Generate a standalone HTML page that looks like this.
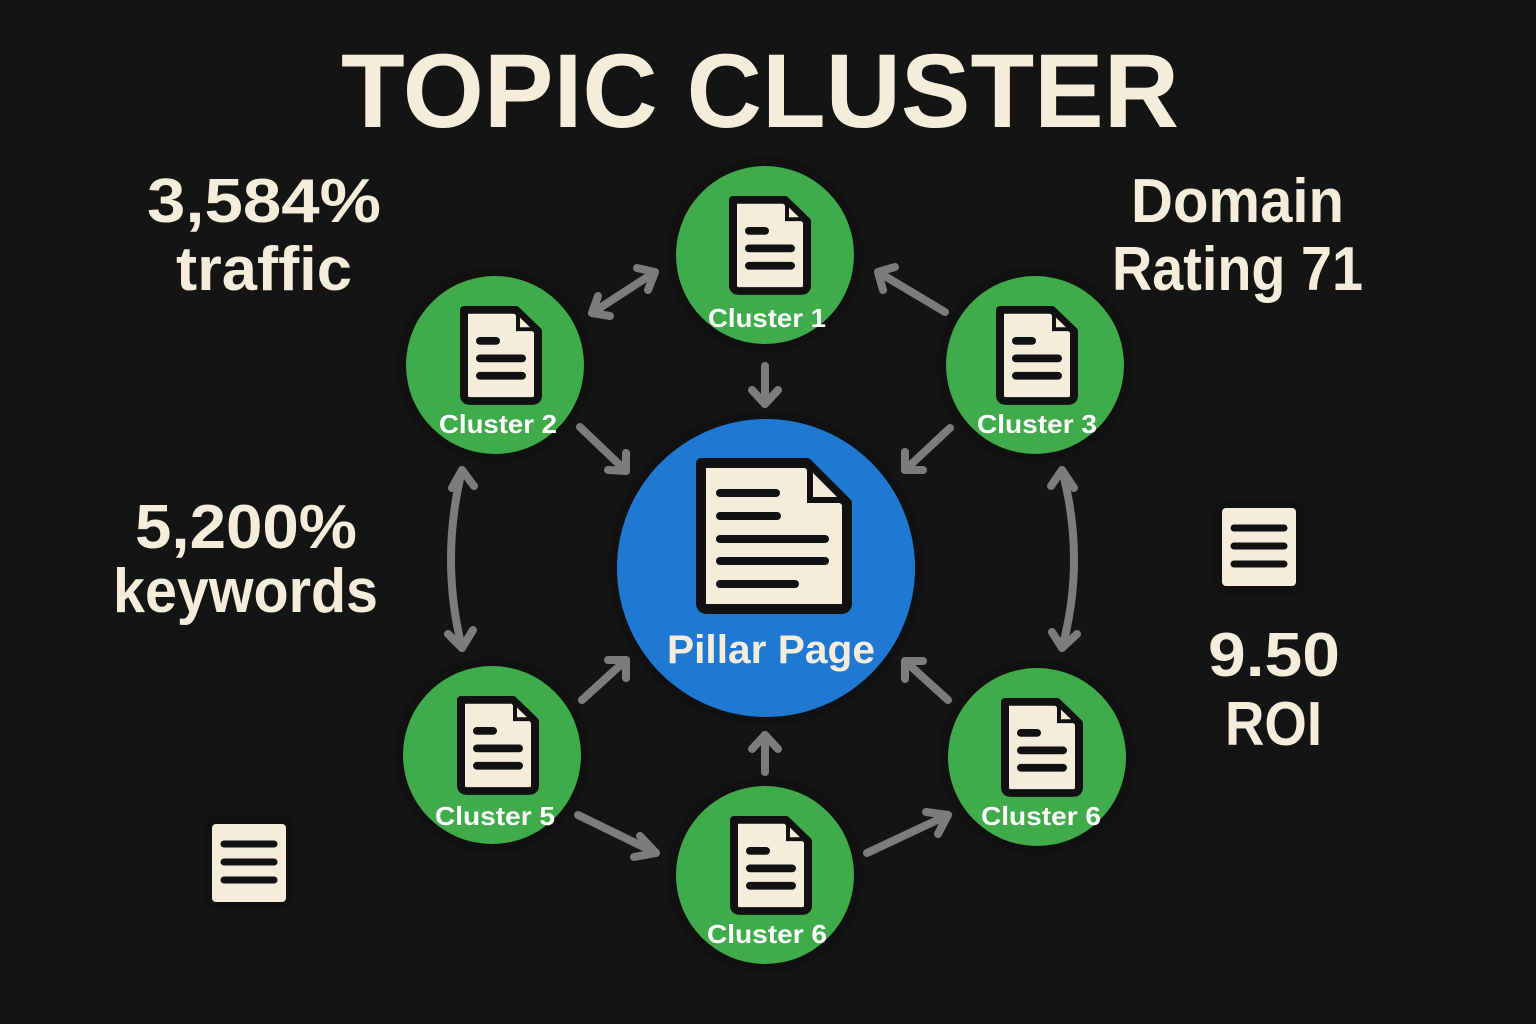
<!DOCTYPE html>
<html><head><meta charset="utf-8"><style>
html,body{margin:0;padding:0;background:#141414;}
svg{display:block}
text{font-family:"Liberation Sans","DejaVu Sans",sans-serif;font-weight:bold;}
</style></head><body>
<svg width="1536" height="1024" viewBox="0 0 1536 1024" xmlns="http://www.w3.org/2000/svg">
<defs>
<marker id="ah" markerWidth="10" markerHeight="10" refX="6" refY="5" orient="auto" markerUnits="userSpaceOnUse" viewBox="0 0 10 10">
</marker>
<g id="doc">
  <path d="M6,6 H58 L80,28 V94 Q80,100 74,100 H12 Q6,100 6,94 Z" fill="#f5ecdc" stroke="#111" stroke-width="8" stroke-linejoin="round"/>
  <path d="M58,6 V28 H80 Z" fill="#111"/>
  <path d="M62,14 V24 H72 Z" fill="#f5ecdc"/>
  <line x1="22" y1="38" x2="38" y2="38" stroke="#111" stroke-width="8" stroke-linecap="round"/>
  <line x1="22" y1="56" x2="64" y2="56" stroke="#111" stroke-width="8" stroke-linecap="round"/>
  <line x1="22" y1="74" x2="64" y2="74" stroke="#111" stroke-width="8" stroke-linecap="round"/>
</g>
<g id="note">
  <rect x="4" y="4" width="82" height="86" rx="8" fill="#f5ecdc" stroke="#111" stroke-width="8"/>
  <line x1="20" y1="28" x2="70" y2="28" stroke="#111" stroke-width="7" stroke-linecap="round"/>
  <line x1="20" y1="46" x2="70" y2="46" stroke="#111" stroke-width="7" stroke-linecap="round"/>
  <line x1="20" y1="64" x2="70" y2="64" stroke="#111" stroke-width="7" stroke-linecap="round"/>
</g>
</defs>
<rect width="1536" height="1024" fill="#141414"/>

<text x="760" y="127" font-size="105" fill="#f5ecdc" text-anchor="middle" textLength="838" lengthAdjust="spacingAndGlyphs">TOPIC CLUSTER</text>

<g fill="#f5ecdc" font-size="62">
<text x="147" y="222" textLength="234" lengthAdjust="spacingAndGlyphs">3,584%</text>
<text x="176" y="290" textLength="176" lengthAdjust="spacingAndGlyphs">traffic</text>
<text x="135" y="548" textLength="222" lengthAdjust="spacingAndGlyphs">5,200%</text>
<text x="113" y="612" textLength="265" lengthAdjust="spacingAndGlyphs">keywords</text>
<text x="1131" y="222" textLength="213" lengthAdjust="spacingAndGlyphs">Domain</text>
<text x="1112" y="290" textLength="251" lengthAdjust="spacingAndGlyphs">Rating 71</text>
<text x="1208" y="676" textLength="132" lengthAdjust="spacingAndGlyphs">9.50</text>
<text x="1225" y="745" textLength="97" lengthAdjust="spacingAndGlyphs">ROI</text>
</g>

<use href="#note" x="1214" y="500"/>
<use href="#note" x="204" y="816"/>

<!-- arrows -->
<g stroke="#7c7c7c" stroke-width="8" fill="none" stroke-linecap="round" stroke-linejoin="round">
<line x1="592" y1="313" x2="655" y2="272"/><polyline points="637,268 655,272 648,290"/><polyline points="598,296 592,313 610,316"/>
<line x1="945" y1="312" x2="878" y2="272"/><polyline points="883,290 878,272 895,267"/>
<line x1="765" y1="366" x2="765" y2="404"/><polyline points="752,390 765,404 778,390"/>
<line x1="580" y1="427" x2="626" y2="471"/><polyline points="608,470 626,471 626,453"/>
<line x1="950" y1="428" x2="905" y2="470"/><polyline points="905,452 905,470 923,470"/>
<path d="M462,470 Q440,560 462,648"/><polyline points="452,488 462,470 474,486"/><polyline points="448,634 462,648 473,630"/>
<path d="M1062,470 Q1086,560 1062,648"/><polyline points="1051,486 1062,470 1074,488"/><polyline points="1052,632 1062,648 1077,634"/>
<line x1="582" y1="700" x2="626" y2="660"/><polyline points="608,660 626,660 626,678"/>
<line x1="948" y1="700" x2="905" y2="661"/><polyline points="905,679 905,661 923,661"/>
<line x1="765" y1="772" x2="765" y2="735"/><polyline points="752,749 765,735 778,749"/>
<line x1="578" y1="815" x2="656" y2="853"/><polyline points="640,836 656,853 634,857"/>
<line x1="867" y1="853" x2="948" y2="815"/><polyline points="926,812 948,815 938,834"/>
</g>

<!-- pillar -->
<circle cx="766" cy="568" r="157" fill="#111"/>
<circle cx="766" cy="568" r="149" fill="#1f78d1"/>
<g transform="translate(695,457)">
  <path d="M6,6 H112 L152,46 V146 Q152,152 146,152 H12 Q6,152 6,146 Z" fill="#f5ecdc" stroke="#111" stroke-width="10" stroke-linejoin="round"/>
  <path d="M112,6 V46 H152 Z" fill="#111"/>
  <path d="M118,16 V40 H142 Z" fill="#f5ecdc"/>
  <g stroke="#111" stroke-width="8" stroke-linecap="round">
  <line x1="25" y1="36" x2="81" y2="36"/><line x1="25" y1="59" x2="82" y2="59"/><line x1="25" y1="82" x2="130" y2="82"/><line x1="25" y1="104" x2="130" y2="104"/><line x1="25" y1="127" x2="100" y2="127"/>
  </g>
</g>
<text x="771" y="663" font-size="40" fill="#f5ecdc" text-anchor="middle" textLength="208" lengthAdjust="spacingAndGlyphs">Pillar Page</text>

<!-- clusters -->
<g font-size="26" fill="#ffffff" text-anchor="middle">
<circle cx="765" cy="255" r="98" fill="#111"/><circle cx="765" cy="255" r="89" fill="#3fab4a"/>
<use href="#doc" transform="translate(727,194) scale(1,0.97)"/>
<text x="767" y="327" textLength="118" lengthAdjust="spacingAndGlyphs">Cluster 1</text>

<circle cx="495" cy="365" r="98" fill="#111"/><circle cx="495" cy="365" r="89" fill="#3fab4a"/>
<use href="#doc" transform="translate(458,304) scale(1,0.97)"/>
<text x="498" y="433" textLength="118" lengthAdjust="spacingAndGlyphs">Cluster 2</text>

<circle cx="1035" cy="365" r="98" fill="#111"/><circle cx="1035" cy="365" r="89" fill="#3fab4a"/>
<use href="#doc" transform="translate(994,304) scale(1,0.97)"/>
<text x="1037" y="433" textLength="120" lengthAdjust="spacingAndGlyphs">Cluster 3</text>

<circle cx="492" cy="755" r="98" fill="#111"/><circle cx="492" cy="755" r="89" fill="#3fab4a"/>
<use href="#doc" transform="translate(455,694) scale(1,0.97)"/>
<text x="495" y="825" textLength="120" lengthAdjust="spacingAndGlyphs">Cluster 5</text>

<circle cx="1037" cy="757" r="98" fill="#111"/><circle cx="1037" cy="757" r="89" fill="#3fab4a"/>
<use href="#doc" transform="translate(999,696) scale(1,0.97)"/>
<text x="1041" y="825" textLength="120" lengthAdjust="spacingAndGlyphs">Cluster 6</text>

<circle cx="765" cy="875" r="98" fill="#111"/><circle cx="765" cy="875" r="89" fill="#3fab4a"/>
<use href="#doc" transform="translate(728,814) scale(1,0.97)"/>
<text x="767" y="943" textLength="120" lengthAdjust="spacingAndGlyphs">Cluster 6</text>
</g>
</svg>
</body></html>
